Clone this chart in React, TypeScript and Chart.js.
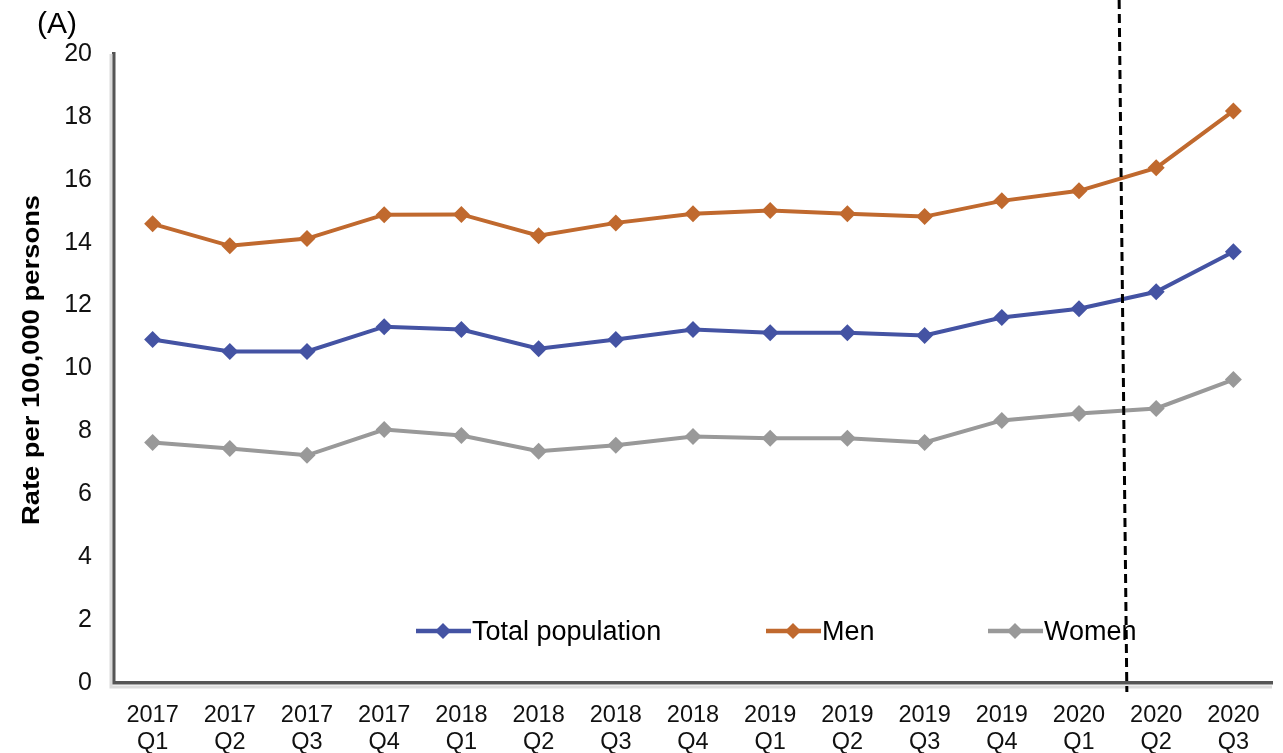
import React, { useEffect, useRef } from "react";
import { Chart, registerables } from "chart.js";

Chart.register(...registerables);

// Quarter labels (year on the first line, quarter on the second)
const quarters: string[][] = [
  ["2017", "Q1"], ["2017", "Q2"], ["2017", "Q3"], ["2017", "Q4"],
  ["2018", "Q1"], ["2018", "Q2"], ["2018", "Q3"], ["2018", "Q4"],
  ["2019", "Q1"], ["2019", "Q2"], ["2019", "Q3"], ["2019", "Q4"],
  ["2020", "Q1"], ["2020", "Q2"], ["2020", "Q3"],
];

// Rates per 100,000 persons
const totalPopulation = [10.92, 10.54, 10.54, 11.33, 11.24, 10.63, 10.92, 11.24, 11.14, 11.14, 11.05, 11.62, 11.9, 12.44, 13.71];
const men = [14.6, 13.9, 14.13, 14.89, 14.9, 14.22, 14.63, 14.92, 15.02, 14.92, 14.83, 15.33, 15.65, 16.38, 18.19];
const women = [7.65, 7.46, 7.24, 8.06, 7.87, 7.37, 7.56, 7.84, 7.78, 7.78, 7.65, 8.35, 8.57, 8.73, 9.65];

const yTicks = [0, 2, 4, 6, 8, 10, 12, 14, 16, 18, 20];
const yTitle = "Rate per 100,000 persons";
const panelLabel = "(A)";

// Dashed divider between 2020 Q1 and 2020 Q2 (category index positions, top and bottom)
const dividerTop = 12.52;
const dividerBottom = 12.62;

const FONT = "'Liberation Sans', Arial, sans-serif";
const BLUE = "#4453a3";
const ORANGE = "#c0692e";
const GRAY = "#999999";

const legendItems = [
  { label: "Total population", color: BLUE, x: 416 },
  { label: "Men", color: ORANGE, x: 766 },
  { label: "Women", color: GRAY, x: 988 },
];

const overlayPlugin = {
  id: "overlay",
  beforeDatasetsDraw(chart: any) {
    // faint shadow strips beside the axis lines
    const { ctx, chartArea } = chart;
    ctx.save();
    ctx.strokeStyle = "#dcdcdc";
    ctx.lineWidth = 3;
    ctx.beginPath();
    ctx.moveTo(chartArea.left - 3, chartArea.top);
    ctx.lineTo(chartArea.left - 3, chartArea.bottom + 4);
    ctx.lineTo(chartArea.right, chartArea.bottom + 4);
    ctx.stroke();
    ctx.restore();
  },
  afterDatasetsDraw(chart: any) {
    const { ctx, scales } = chart;
    const xs = scales.x;
    const ys = scales.y;
    ctx.save();

    // legend inside the plot area
    const ly = ys.getPixelForValue(1.65);
    ctx.font = `27px ${FONT}`;
    ctx.textBaseline = "middle";
    ctx.textAlign = "left";
    legendItems.forEach((item) => {
      ctx.strokeStyle = item.color;
      ctx.lineWidth = 4.5;
      ctx.beginPath();
      ctx.moveTo(item.x, ly);
      ctx.lineTo(item.x + 55, ly);
      ctx.stroke();
      ctx.fillStyle = item.color;
      ctx.beginPath();
      const cx = item.x + 27;
      ctx.moveTo(cx, ly - 8);
      ctx.lineTo(cx + 8, ly);
      ctx.lineTo(cx, ly + 8);
      ctx.lineTo(cx - 8, ly);
      ctx.closePath();
      ctx.fill();
      ctx.fillStyle = "#000";
      ctx.fillText(item.label, item.x + 56, ly + 1);
    });

    // panel label
    ctx.font = `30px ${FONT}`;
    ctx.textBaseline = "middle";
    ctx.fillText(panelLabel, 37, 25);

    // rotated y-axis title, slightly widened along its length
    ctx.save();
    ctx.translate(33, 360);
    ctx.rotate(-Math.PI / 2);
    ctx.scale(1.19, 1);
    ctx.font = `bold 23px ${FONT}`;
    ctx.textAlign = "center";
    ctx.textBaseline = "middle";
    ctx.fillText(yTitle, 0, 0);
    ctx.restore();

    // dashed divider
    ctx.strokeStyle = "#000";
    ctx.lineWidth = 3;
    ctx.setLineDash([9, 5]);
    ctx.beginPath();
    ctx.moveTo(xs.getPixelForValue(dividerTop), 0);
    ctx.lineTo(xs.getPixelForValue(dividerBottom), ys.bottom + 9);
    ctx.stroke();
    ctx.restore();
  },
};

export default function App() {
  const canvasRef = useRef<HTMLCanvasElement | null>(null);

  useEffect(() => {
    if (!canvasRef.current) return;
    const mk = (label: string, data: number[], color: string) => ({
      label,
      data,
      borderColor: color,
      backgroundColor: color,
      borderWidth: 4,
      pointStyle: "rectRot" as const,
      pointRadius: 8.5,
      pointBorderWidth: 0,
      tension: 0,
    });
    const chart = new Chart(canvasRef.current, {
      type: "line",
      data: {
        labels: quarters,
        datasets: [
          mk("Total population", totalPopulation, BLUE),
          mk("Men", men, ORANGE),
          mk("Women", women, GRAY),
        ],
      },
      options: {
        animation: false,
        responsive: false,
        devicePixelRatio: 1,
        layout: { padding: { top: 54, right: 11, left: 0, bottom: 0 } },
        plugins: {
          legend: { display: false },
          tooltip: { enabled: false },
        },
        scales: {
          x: {
            offset: true,
            grid: { display: false, drawTicks: false },
            border: { display: true, color: "#555", width: 3.5 },
            ticks: {
              color: "#111",
              font: { family: FONT, size: 23.5, lineHeight: 1.15 },
              padding: 19,
              maxRotation: 0,
              autoSkip: false,
            },
            afterFit: (s: any) => {
              s.height = 70;
            },
          },
          y: {
            min: 0,
            max: 20,
            afterBuildTicks: (s: any) => {
              s.ticks = yTicks.map((v) => ({ value: v }));
            },
            grid: { display: false, drawTicks: false },
            border: { display: true, color: "#555", width: 3.5 },
            ticks: {
              color: "#111",
              font: { family: FONT, size: 25 },
              padding: 22,
            },
            afterFit: (s: any) => {
              s.width = 114;
            },
          },
        },
      },
      plugins: [overlayPlugin],
    });
    return () => chart.destroy();
  }, []);

  return (
    <div style={{ position: "fixed", left: 0, top: 0, width: 1283, height: 753, background: "#fff" }}>
      <canvas ref={canvasRef} width={1283} height={753} style={{ display: "block" }} />
    </div>
  );
}
